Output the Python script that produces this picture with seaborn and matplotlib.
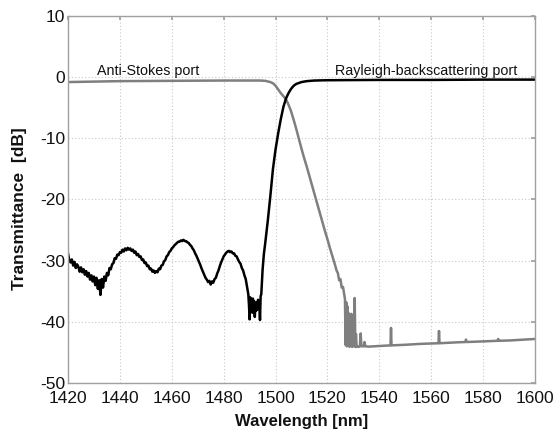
import numpy as np
import pandas as pd
import matplotlib
matplotlib.use("Agg")
import matplotlib.pyplot as plt
import seaborn as sns

# ---- data ----
rayleigh_wl = [
    1420.0, 1420.5, 1421.0, 1421.5, 1422.0, 1422.5, 1423.0, 1423.5, 1424.0, 1424.5,
    1425.0, 1425.5, 1426.0, 1426.5, 1427.0, 1427.5, 1428.0, 1428.5, 1429.0, 1429.5,
    1430.0, 1430.5, 1431.0, 1431.5, 1432.0, 1432.5, 1433.0, 1433.5, 1434.0, 1434.5,
    1435.0, 1435.5, 1436.0, 1436.5, 1437.0, 1437.5, 1438.0, 1438.5, 1439.0, 1439.5,
    1440.0, 1440.5, 1441.0, 1441.5, 1442.0, 1442.5, 1443.0, 1443.5, 1444.0, 1444.5,
    1445.0, 1445.5, 1446.0, 1446.5, 1447.0, 1447.5, 1448.0, 1448.5, 1449.0, 1449.5,
    1450.0, 1450.5, 1451.0, 1451.5, 1452.0, 1452.5, 1453.0, 1453.5, 1454.0, 1454.5,
    1455.0, 1455.5, 1456.0, 1456.5, 1457.0, 1457.5, 1458.0, 1458.5, 1459.0, 1459.5,
    1460.0, 1460.5, 1461.0, 1461.5, 1462.0, 1462.5, 1463.0, 1463.5, 1464.0, 1464.5,
    1465.0, 1465.5, 1466.0, 1466.5, 1467.0, 1467.5, 1468.0, 1468.5, 1469.0, 1469.5,
    1470.0, 1470.5, 1471.0, 1471.5, 1472.0, 1472.5, 1473.0, 1473.5, 1474.0, 1474.5,
    1475.0, 1475.5, 1476.0, 1476.5, 1477.0, 1477.5, 1478.0, 1478.5, 1479.0, 1479.5,
    1480.0, 1480.5, 1481.0, 1481.5, 1482.0, 1482.5, 1483.0, 1483.5, 1484.0, 1484.5,
    1485.0, 1485.5, 1486.0, 1486.5, 1487.0, 1487.5, 1488.0, 1488.5, 1489.0, 1489.5,
    1489.75, 1490.0, 1490.25, 1490.5, 1490.75, 1491.0, 1491.25, 1491.5, 1491.75, 1492.0,
    1492.25, 1492.5, 1492.75, 1493.0, 1493.25, 1493.5, 1493.75, 1494.0, 1494.25, 1494.5,
    1495.0, 1495.5, 1496.0, 1497.0, 1498.0, 1499.0, 1500.0, 1501.0, 1502.0, 1503.0,
    1504.0, 1505.0, 1506.0, 1507.0, 1508.0, 1510.0, 1512.0, 1515.0, 1520.0, 1540.0,
    1560.0, 1580.0, 1600.0,
]
rayleigh_db = [
    -28.8, -29.9, -30.3, -29.8, -30.8, -30.2, -31.2, -30.6, -31.0, -31.8,
    -31.1, -31.9, -31.4, -32.3, -31.7, -32.6, -32.0, -33.1, -32.4, -33.4,
    -32.6, -34.0, -32.8, -34.6, -33.2, -35.6, -33.0, -34.4, -32.6, -33.3,
    -32.0, -32.4, -31.2, -31.4, -30.6, -30.4, -29.6, -29.7, -29.0, -29.1,
    -28.6, -28.7, -28.2, -28.5, -28.0, -28.3, -27.9, -28.2, -28.0, -28.4,
    -28.2, -28.7, -28.5, -29.1, -28.9, -29.4, -29.3, -29.9, -29.8, -30.4,
    -30.3, -30.9, -30.8, -31.4, -31.3, -31.8, -31.6, -32.0, -31.7, -31.9,
    -31.3, -31.4, -30.8, -30.7, -30.1, -29.9, -29.3, -29.1, -28.6, -28.4,
    -28.0, -27.8, -27.5, -27.3, -27.1, -26.9, -26.9, -26.7, -26.8, -26.6,
    -26.8, -26.8, -27.0, -27.1, -27.4, -27.6, -28.0, -28.3, -28.8, -29.2,
    -29.7, -30.2, -30.7, -31.3, -31.8, -32.3, -32.8, -33.1, -33.5, -33.3,
    -33.9, -33.4, -33.6, -33.0, -32.8, -32.1, -31.6, -30.9, -30.3, -29.8,
    -29.3, -29.0, -28.7, -28.5, -28.4, -28.6, -28.5, -28.8, -28.8, -29.2,
    -29.3, -29.8, -30.2, -30.5, -31.2, -31.6, -32.4, -33.0, -34.3, -35.5,
    -37.2, -39.6, -36.0, -37.8, -36.4, -38.5, -36.2, -37.3, -36.6, -39.2,
    -37.0, -38.2, -36.8, -38.0, -36.4, -37.6, -36.9, -39.7, -35.8, -35.5,
    -31.5, -28.9, -27.2, -23.5, -19.4, -15.0, -11.8, -9.2, -6.9, -4.9,
    -3.5, -2.6, -1.9, -1.4, -1.1, -0.8, -0.65, -0.55, -0.5, -0.45,
    -0.45, -0.4, -0.4,
]

antistokes_wl = [
    1420.0, 1440.0, 1460.0, 1480.0, 1494.0, 1496.0, 1498.0, 1499.0, 1500.0, 1501.0,
    1502.0, 1503.0, 1504.0, 1505.0, 1506.0, 1507.0, 1508.0, 1509.0, 1510.0, 1511.0,
    1512.0, 1513.0, 1514.0, 1515.0, 1516.0, 1517.0, 1518.0, 1519.0, 1520.0, 1521.0,
    1522.0, 1523.0, 1523.5, 1524.0, 1524.5, 1525.0, 1525.5, 1526.0, 1526.5, 1526.75,
    1527.0, 1527.25, 1527.5, 1527.75, 1528.0, 1528.25, 1528.5, 1528.75, 1529.0, 1529.25,
    1529.5, 1529.75, 1530.0, 1530.25, 1530.5, 1530.75, 1531.0, 1531.25, 1531.5, 1532.0,
    1532.5, 1532.8, 1533.1, 1534.0, 1534.3, 1534.6, 1536.0, 1540.0, 1544.3, 1544.5,
    1544.7, 1550.0, 1556.0, 1562.8, 1563.0, 1563.2, 1570.0, 1573.2, 1573.4, 1573.6,
    1580.0, 1585.6, 1585.8, 1586.0, 1590.0, 1600.0,
]
antistokes_db = [
    -0.8, -0.65, -0.6, -0.55, -0.55, -0.6, -0.8, -1.0, -1.4, -2.0,
    -2.6, -3.1, -3.6, -4.5, -5.6, -7.0, -8.5, -10.1, -11.7, -13.2,
    -14.6, -16.1, -17.6, -19.1, -20.6, -22.1, -23.6, -25.1, -26.5, -28.0,
    -29.4, -30.8, -31.6, -32.0, -33.2, -33.0, -34.4, -34.3, -35.6, -36.3,
    -43.8, -36.8, -44.0, -37.5, -41.0, -38.6, -44.1, -39.0, -43.5, -38.7,
    -44.1, -41.5, -44.0, -40.0, -36.1, -44.1, -42.0, -44.1, -44.0, -44.1,
    -44.0, -41.9, -44.0, -44.0, -43.3, -44.0, -44.05, -43.95, -43.85, -41.0,
    -43.85, -43.75, -43.6, -43.5, -41.5, -43.5, -43.35, -43.3, -42.9, -43.3,
    -43.2, -43.1, -42.8, -43.1, -43.05, -42.8,
]

xticks = [1420, 1440, 1460, 1480, 1500, 1520, 1540, 1560, 1580, 1600]
yticks = [10, 0, -10, -20, -30, -40, -50]
port_labels = ["Anti-Stokes port", "Rayleigh-backscattering port"]
label_pos_x = [1431, 1523]
label_pos_y = [0.35, 0.35]

# ---- plotting ----
sns.set_theme(style="white")
plt.rcParams["font.family"] = ["Liberation Sans", "DejaVu Sans"]

df_r = pd.DataFrame({"wl": rayleigh_wl, "db": rayleigh_db})
df_a = pd.DataFrame({"wl": antistokes_wl, "db": antistokes_db})

fig = plt.figure(figsize=(5.55, 4.32), dpi=100)
ax = fig.add_axes([68 / 555, 1 - 383 / 432, (535 - 68) / 555, (383 - 16) / 432])

sns.lineplot(data=df_a, x="wl", y="db", ax=ax, color="#7f7f7f", linewidth=1.8,
             sort=False, estimator=None)
sns.lineplot(data=df_r, x="wl", y="db", ax=ax, color="#000000", linewidth=1.8,
             sort=False, estimator=None)

ax.set_xlim(1420, 1600)
ax.set_ylim(-50, 10)
ax.set_xticks(xticks)
ax.set_yticks(yticks)
ax.set_xticklabels([str(t) for t in xticks], fontsize=12.5)
ax.set_yticklabels([str(t) for t in yticks], fontsize=12.5)
ax.grid(True, linestyle=(0, (1, 2)), color="#c8c8c8", linewidth=0.8)
for s in ax.spines.values():
    s.set_color("#a0a0a0")
    s.set_linewidth(1.0)
ax.tick_params(axis="both", direction="in", length=3, color="#a0a0a0",
               top=True, right=True, labelcolor="#111111")
ax.tick_params(axis="x", pad=6)
ax.tick_params(axis="y", pad=2)

ax.set_xlabel("Wavelength [nm]", fontsize=12, fontweight="bold", color="#111111")
ax.set_ylabel("Transmittance  [dB]", fontsize=12.5, fontweight="bold", color="#111111")
ax.xaxis.set_label_coords(0.5, -0.084)
ax.yaxis.set_label_coords(-0.088, 0.474)

for t, x, y in zip(port_labels, label_pos_x, label_pos_y):
    ax.text(x, y, t, fontsize=10.3, color="#111111", va="baseline", ha="left")

fig.savefig("out.png", dpi=100)
